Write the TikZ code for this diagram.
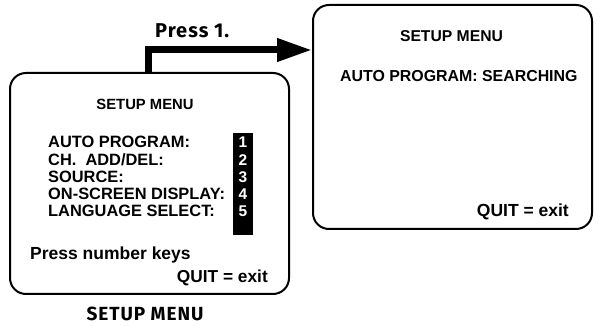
\documentclass[tikz,border=0pt]{standalone}
\usepackage{fontspec}
\setmainfont{Liberation Sans}
\newfontfamily\capfont{Fira Sans}[LetterSpace=5]
\usetikzlibrary{arrows.meta}
\newcommand{\fs}[1]{\fontsize{#1}{#1}\selectfont}
\tikzset{
  screen/.style={draw, line width=2pt, rounded corners=16pt, minimum width=279pt, minimum height=221pt, inner sep=0pt},
  txt/.style={inner sep=0pt, font=\bfseries},
  num/.style={inner sep=0pt, text=white, font=\bfseries\fs{15.5}},
  flow/.style={line width=7pt, -{Triangle[length=35pt,width=22pt]}},
  captxt/.style={inner sep=0pt, font=\capfont\bfseries}
}
\begin{document}
\begin{tikzpicture}[x=1pt,y=-1pt]
\useasboundingbox (0,0) rectangle (598,326);
% screens
\node[screen] (L) at (149.5,183.5) {};
\node[screen, minimum height=224pt] (R) at (452.5,117) {};
% arrow
\draw[flow] ([xshift=-1.5pt]L.north) |- ([yshift=-46pt]R.north west);
\node[captxt, anchor=base west, font=\capfont\bfseries\fs{20}] (p1) at (155,38) {Press 1.};
% left screen text
\node[txt, anchor=base, font=\bfseries\fs{14.8}] (lh) at (145,110) {SETUP MENU};
\fill (233,133) rectangle (253,235);
\node[txt, anchor=base west, font=\bfseries\fs{16.4}] (m1) at (48,148) {AUTO PROGRAM:};
\node[txt, anchor=base west, font=\bfseries\fs{16.4}] (m2) at (48,165.5) {CH.\ \ ADD/DEL:};
\node[txt, anchor=base west, font=\bfseries\fs{16.4}] (m3) at (48,183) {SOURCE:};
\node[txt, anchor=base west, font=\bfseries\fs{16.4}] (m4) at (48,200) {ON-SCREEN DISPLAY:};
\node[txt, anchor=base west, font=\bfseries\fs{16.4}] (m5) at (48,217) {LANGUAGE SELECT:};
\node[num, anchor=base] (n1) at (243,148) {1};
\node[num, anchor=base] (n2) at (243,165.5) {2};
\node[num, anchor=base] (n3) at (243,183) {3};
\node[num, anchor=base] (n4) at (243,200) {4};
\node[num, anchor=base] (n5) at (243,217) {5};
\node[txt, anchor=base west, font=\bfseries\fs{17.5}] (pk) at (30,260) {Press number keys};
\node[txt, anchor=base east, font=\bfseries\fs{17.3}] (lq) at (268,283) {QUIT = exit};
% right screen text
\node[txt, anchor=base, font=\bfseries\fs{15.7}] (rh) at (451.5,42) {SETUP MENU};
\node[txt, anchor=base west, font=\bfseries\fs{15.9}] (ra) at (340,82) {AUTO PROGRAM: SEARCHING};
\node[txt, anchor=base east, font=\bfseries\fs{17.5}] (rq) at (569,217) {QUIT = exit};
% caption
\node[captxt, anchor=base, font=\capfont\bfseries\fs{19}] (c) at (145,320) {SETUP MENU};
\end{tikzpicture}
\end{document}
